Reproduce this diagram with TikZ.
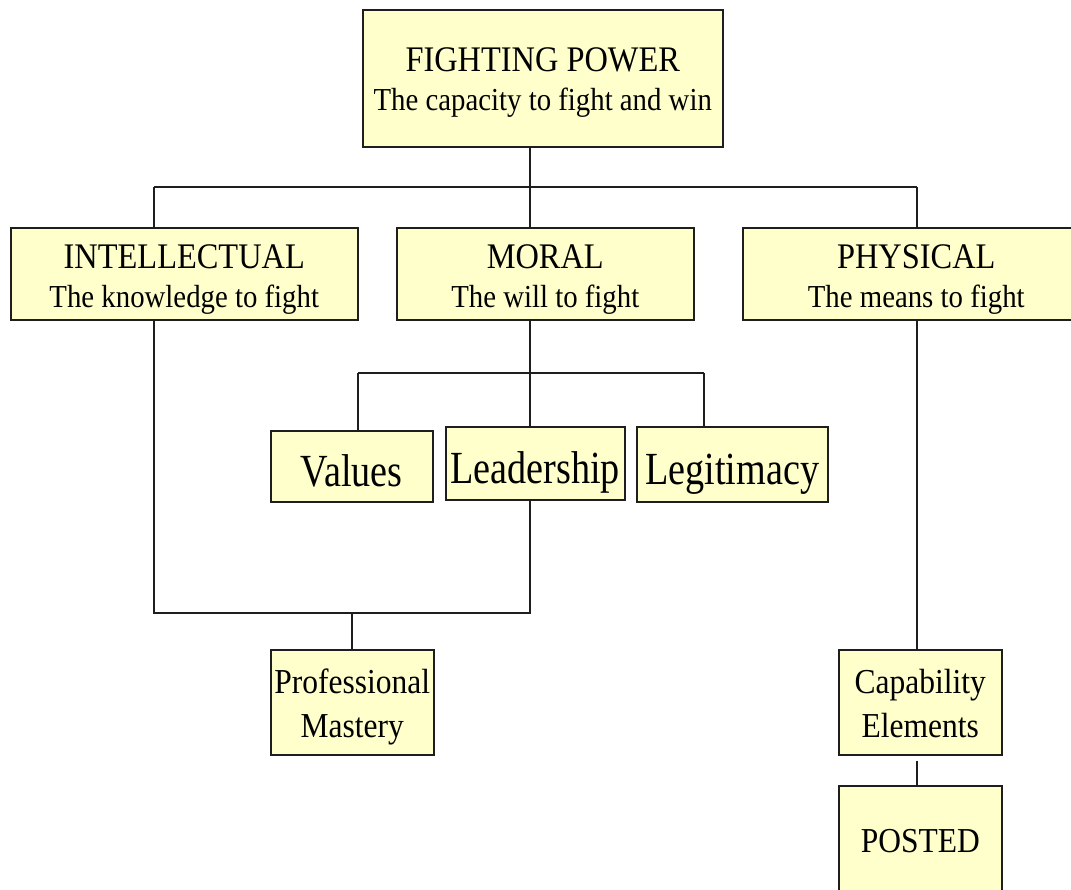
\documentclass[tikz,border=0pt]{standalone}
\usepackage{fontspec}
\usetikzlibrary{calc}
\setmainfont{Liberation Serif}[FakeStretch=0.9]
\newfontfamily\narrowserif{Liberation Serif}[FakeStretch=0.83]
\definecolor{boxfill}{RGB}{255,255,204}
\definecolor{edge}{RGB}{30,30,30}

\begin{document}
\begin{tikzpicture}[x=1pt,y=-1pt,
  box/.style={draw=edge, line width=1.5pt, fill=boxfill, inner sep=0pt,
              anchor=north west, align=center, text=black},
  pillar/.style={box, minimum width=347pt, minimum height=92pt,
                 font=\fontsize{32}{39}\selectfont},
  element/.style={box, font=\narrowserif\fontsize{46}{50}\selectfont,
                  text height=41pt, text depth=0pt},
  outcome/.style={box, minimum width=163pt, minimum height=105pt,
                  font=\fontsize{35}{44}\selectfont},
  link/.style={draw=edge, line width=1.6pt}]

\path[use as bounding box, clip] (0,0) rectangle (1071,889);
\fill[white] (0,0) rectangle (1071,889);

% top of the hierarchy
\node[box, minimum width=360pt, minimum height=137pt,
      font=\fontsize{32}{39}\selectfont] (fp) at (362,9)
  {\rule{0pt}{33pt}{\fontsize{36}{39}\selectfont FIGHTING POWER}\\The capacity to fight and win};

% the three components
\node[pillar] (int) at (10,227)
  {\rule{0pt}{36pt}{\fontsize{36}{39}\selectfont INTELLECTUAL}\\The knowledge to fight};
\node[pillar, minimum width=297pt] (mor) at (396,227)
  {\rule{0pt}{36pt}{\fontsize{36}{39}\selectfont MORAL}\\The will to fight};
\node[pillar] (phy) at (742,227)
  {\rule{0pt}{36pt}{\fontsize{36}{39}\selectfont PHYSICAL}\\The means to fight};

% moral elements
\node[element, minimum width=162pt, minimum height=71pt] (val) at (270,430) {Values};
\node[element, minimum width=179pt, minimum height=73pt] (lead) at (445,426) {Leadership};
\node[element, minimum width=191pt, minimum height=75pt] (leg) at (636,426) {Legitimacy};

% outcomes
\node[outcome] (pm) at (270,649) {\rule{0pt}{34.5pt}Professional\\Mastery};
\node[outcome] (cap) at (838,649) {\rule{0pt}{27pt}Capability\\Elements};
\node[outcome, minimum height=110pt] (post) at (838,785) {POSTED};

% junction points of the tree
\coordinate (hL) at (154,187);
\coordinate (hM) at (530,187);
\coordinate (hR) at (917,187);
\coordinate (mL) at (358,373);
\coordinate (mM) at (530,373);
\coordinate (mR) at (704,373);
\coordinate (pL) at (154,613);
\coordinate (pM) at (352,613);
\coordinate (pR) at (530,613);

\draw[link] (fp.south -| hM) -- (hM);
\draw[link] (hL) -- (hR);
\draw[link] (hL) -- (int.north -| hL);
\draw[link] (hM) -- (mor.north -| hM);
\draw[link] (hR) -- (phy.north -| hR);

\draw[link] (mor.south -| mM) -- (mM);
\draw[link] (mL) -- (mR);
\draw[link] (mL) -- (val.north -| mL);
\draw[link] (mM) -- (lead.north -| mM);
\draw[link] (mR) -- (leg.north -| mR);

\draw[link] (int.south -| pL) -- (pL) -- (pR) -- (lead.south -| pR);
\draw[link] (pM) -- (pm.north -| pM);

\draw[link] (phy.south -| hR) -- (cap.north -| hR);
\draw[link] ($(cap.south -| hR)+(0,5)$) -- (post.north -| hR);
\end{tikzpicture}
\end{document}
